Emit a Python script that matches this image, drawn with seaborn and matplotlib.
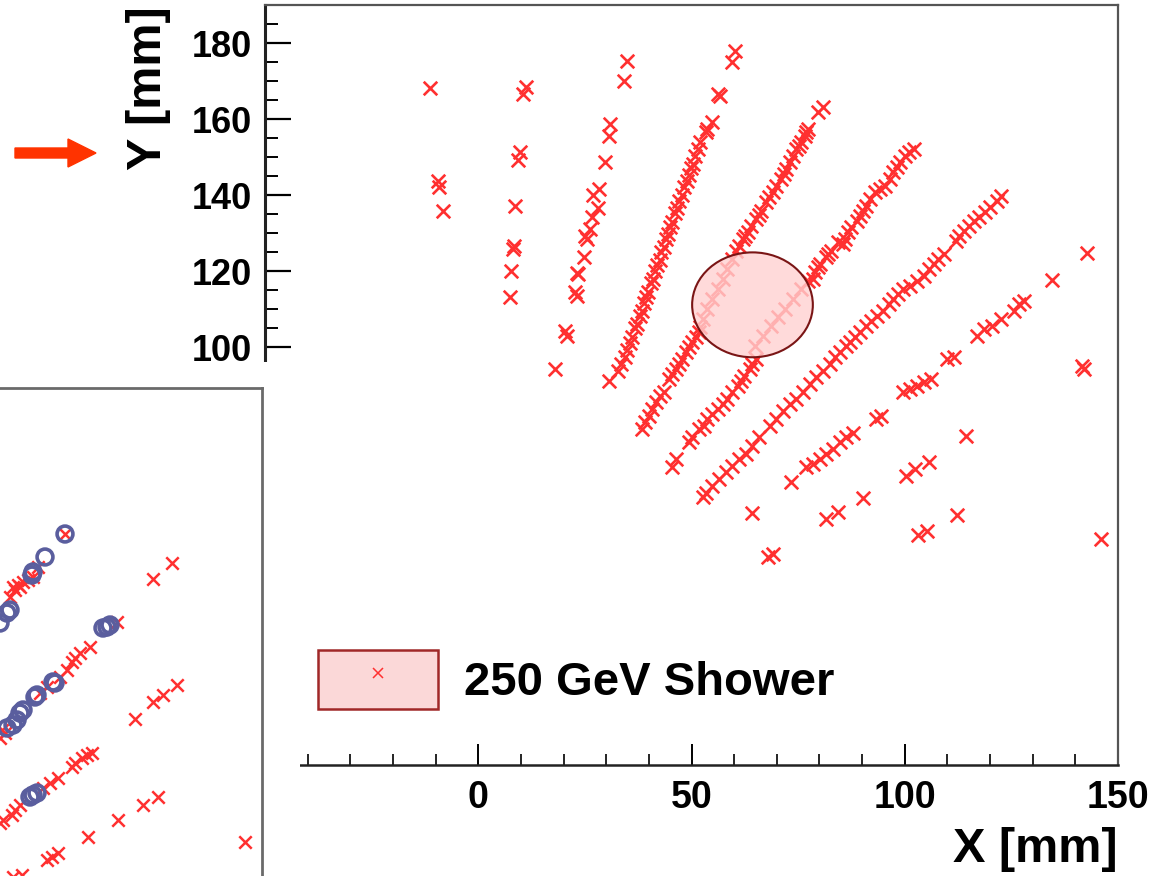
import numpy as np
import pandas as pd
import matplotlib
matplotlib.use("Agg")
import matplotlib.pyplot as plt
import seaborn as sns
from matplotlib.patches import Ellipse, Rectangle, Patch, FancyArrow
from matplotlib.lines import Line2D
from matplotlib.legend_handler import HandlerTuple
from matplotlib.ticker import MultipleLocator

# ---------------- data (mm) ----------------
t0_x = [-11.2, -9.5, -9.1, -8.3]
t0_y = [168.1, 143.8, 142.0, 135.7]

t1_x = [11.3, 10.5, 9.7, 9.4, 8.6, 8.4, 8.2, 7.6, 7.4]
t1_y = [168.3, 166.6, 151.2, 149.1, 137.2, 126.7, 125.8, 120.1, 113.1]

t2_x = [34.9, 34.1, 30.9, 30.6, 29.8, 28.4, 27.0, 28.0, 26.6, 26.2, 25.1, 25.5, 24.9,
        23.5, 23.1, 22.7, 23.1, 20.3, 20.7, 18.1]
t2_y = [175.3, 170.1, 158.7, 155.6, 148.6, 141.6, 140.0, 136.5, 134.1, 131.1, 129.3, 128.4,
        123.6, 119.2, 119.6, 114.4, 113.5, 104.3, 103.0, 94.2]

t3_x = [60.3, 59.6, 56.3, 56.6, 54.7, 53.7, 53.3, 52.1, 51.5, 50.9, 50.4, 49.8, 49.3, 48.9,
        48.2, 47.8, 47.0, 46.6, 46.1, 45.5, 45.0, 44.6, 44.1, 43.5, 42.9, 42.5, 42.0, 41.4,
        40.9, 40.5, 39.9, 39.3, 38.9, 38.3, 37.9, 37.2, 36.8, 36.1, 35.6, 34.9, 34.4, 33.5,
        32.8, 30.6]
t3_y = [177.9, 175.0, 166.6, 166.0, 159.2, 157.4, 156.6, 153.9, 152.0, 150.3, 148.2, 147.0,
        145.2, 143.6, 142.0, 140.1, 138.4, 136.5, 135.2, 133.0, 131.6, 129.8, 128.5, 126.4,
        125.1, 123.0, 121.7, 119.9, 118.0, 116.8, 114.6, 113.1, 111.5, 109.6, 108.2, 106.0,
        104.9, 102.6, 101.0, 99.3, 97.4, 95.5, 93.8, 91.1]

t4_x = [80.8, 79.7, 77.3, 76.8, 76.5, 75.7, 75.1, 74.5, 73.8, 73.0, 72.2, 71.6, 71.0, 69.8,
        69.1, 68.1, 67.5, 66.3, 65.8, 65.1, 63.9, 63.2, 62.5, 62.0, 61.2, 60.4,
        59.6, 58.4, 57.3, 56.1, 54.9, 53.7, 52.6, 51.9,
        51.8, 51.0, 50.2, 49.4, 48.6, 47.8, 47.1, 46.3, 45.5, 44.7, 43.5, 42.7, 41.6, 40.8,
        40.0, 39.2, 38.4]
t4_y = [163.1, 161.8, 157.4, 156.6, 155.6, 153.9, 152.9, 152.1, 150.3, 148.6, 146.8, 145.5,
        144.2, 142.4, 140.7, 139.5, 138.1, 135.9, 134.7, 133.7, 131.9, 130.2, 129.2, 128.4,
        126.7, 125.3,
        123.2, 120.5, 117.9, 115.3, 112.6, 110.0, 107.4, 105.3,
        103.9, 102.6, 101.2, 99.9, 98.6, 96.8, 95.5, 94.2, 92.9, 91.6, 88.1, 87.2, 85.4, 83.7,
        81.9, 80.2, 78.4]

t5_x = [102.1, 100.9, 100.1, 98.9, 98.1, 97.3, 96.6, 95.4, 94.2, 93.0, 91.8, 91.0, 90.3,
        89.5, 88.7, 87.5, 86.7, 86.0, 85.6, 84.4, 82.8, 82.0, 81.6, 80.1, 79.7, 79.0, 78.5,
        77.3, 75.7, 73.8, 71.9, 70.2, 68.6, 66.7, 64.8,
        65.1, 64.3, 63.6, 62.4, 61.6, 60.8, 59.6, 58.4, 57.3, 56.1, 54.9, 53.7, 53.0, 51.8,
        50.2, 49.4, 46.3, 45.5]
t5_y = [152.1, 151.2, 150.3, 148.6, 147.3, 146.0, 144.2, 142.4, 141.6, 140.7, 138.9, 137.2,
        135.9, 134.6, 133.2, 131.5, 130.2, 128.4, 127.1, 127.6, 125.3, 124.5, 123.6, 121.8,
        121.1, 119.7, 117.9,
        117.4, 115.3, 112.6, 110.0, 107.9, 105.5, 102.9, 100.3,
        96.8, 95.5, 94.2, 92.4, 91.1, 89.8, 88.1, 86.3, 85.0, 83.7, 82.4, 81.1, 79.3, 78.4,
        76.2, 74.9, 70.5, 68.3]

t6_x = [122.5, 121.7, 120.1, 118.9, 117.4, 116.2, 115.0, 113.8, 112.7, 111.9, 109.1, 107.9,
        106.8, 105.6, 104.4, 102.8, 101.3, 99.7, 98.5, 97.3, 96.2, 95.0, 93.4, 92.2, 91.0,
        89.5, 88.3, 87.1, 86.3, 84.8, 83.6, 82.4, 80.8, 79.3, 77.7, 76.1, 74.5, 73.0, 71.4,
        69.8, 68.3, 65.9, 64.3, 62.8, 61.2, 59.6, 58.0, 56.5, 54.9, 53.3, 52.6]
t6_y = [139.8, 138.5, 136.8, 135.4, 134.1, 133.2, 131.9, 130.6, 129.3, 128.0, 124.5, 123.2,
        121.8, 120.5, 118.8, 117.4, 116.1, 115.3, 113.9, 112.6, 111.3, 109.6, 108.2, 106.9,
        105.6, 103.9, 102.6, 101.2, 100.3, 98.6, 97.3, 95.5, 93.8, 92.0, 90.3, 88.1, 86.3,
        85.0, 83.2, 81.1, 79.3, 76.2, 74.0, 71.8, 70.5, 68.8, 67.0, 65.3, 63.5, 61.7, 60.4]

t7_x = [73.4, 76.9, 78.5, 80.1, 81.6, 83.2, 84.8, 86.3, 87.9, 93.3, 94.5, 99.7, 101.3, 102.8,
        104.4, 106.1, 109.8, 111.5, 116.9, 118.5, 120.4, 122.6, 125.6, 126.8, 128.0, 134.6,
        142.8]
t7_y = [64.4, 68.3, 69.2, 70.5, 71.8, 73.2, 74.9, 76.2, 77.5, 81.1, 81.8, 88.2, 88.9, 89.7,
        90.8, 91.6, 96.8, 97.4, 102.9, 104.7, 105.5, 107.4, 109.5, 111.3, 112.1, 117.6, 124.7]

iso_x = [141.6, 142.1, 114.3, 105.6, 102.5, 100.4, 90.3, 112.2, 105.1, 103.2, 146.1, 81.6,
         84.4, 64.3, 67.9, 69.1]
iso_y = [95.0, 94.2, 76.6, 69.7, 67.9, 66.1, 60.3, 55.8, 51.6, 50.5, 49.5, 54.7, 56.6, 56.3,
         44.7, 45.5]

shower_center = (64.3, 111.1)
shower_size = (28.3, 27.6)

x_ticks = [-50, 0, 50, 100, 150]
y_ticks = [0, 20, 40, 60, 80, 100, 120, 140, 160, 180]
legend_label = "250 GeV Shower"

# inset (second event display, arbitrary units)
in_circ_x = [16.25, 11.25, 8.25, 8.0, 2.5, 1.75, 0.0, 26.75, 27.5, 25.75, 13.25, 13.75,
             8.75, 9.25, 5.75, 5.0, 4.25, 3.25, 1.75, 8.25, 9.25, 7.5]
in_circ_y = [85.5, 79.75, 76.0, 75.25, 66.5, 65.75, 63.25, 62.25, 62.75, 62.0, 48.5, 48.25,
             44.75, 45.25, 41.5, 40.75, 39.0, 37.75, 37.0, 20.25, 20.75, 19.75]
in_x_x = [16.25, 3.25, 4.5, 5.75, 7.0, 8.25, 9.5, 2.5, 3.75, 5.0, 38.25, 43.0,
          29.25, 22.5, 20.0, 18.75, 18.0, 16.75, 15.0, 11.75, 10.0, 0.0, 1.25, 0.5,
          33.75, 38.25, 40.75, 44.25,
          23.0, 21.75, 20.5, 18.75, 18.0, 14.5, 12.5, 10.75, 5.0, 3.75, 3.0, 0.0, 0.75,
          35.75, 39.5, 29.5, 22.0, 61.25, 14.5, 13.0, 11.75, 5.5, 3.25]
in_x_y = [85.5, 72.25, 72.75, 73.5, 74.0, 74.75, 77.25, 69.75, 71.5, 72.25, 74.25, 78.25,
          63.5, 57.25, 55.75, 54.5, 53.5, 51.5, 49.75, 47.25, 45.75, 34.5, 35.75, 36.5,
          39.25, 43.5, 45.25, 47.75,
          30.75, 30.25, 29.5, 28.25, 27.25, 24.5, 23.25, 22.0, 17.75, 16.5, 15.25, 13.25, 14.0,
          17.75, 19.75, 14.0, 9.75, 8.5, 5.75, 4.75, 4.0, 0.25, -0.25]

# ---------------- style ----------------
sns.set_style("white")
plt.rcParams["font.family"] = ["Liberation Sans", "DejaVu Sans"]
plt.rcParams["font.weight"] = "bold"
for key in ("text.color", "axes.labelcolor", "xtick.color", "ytick.color"):
    plt.rcParams[key] = "black"

RED = "#ff3030"
W, H = 1163, 876
fig = plt.figure(figsize=(W / 100, H / 100), dpi=100)

main_df = pd.DataFrame({
    "x": t0_x + t1_x + t2_x + t3_x + t4_x + t5_x + t6_x + t7_x + iso_x,
    "y": t0_y + t1_y + t2_y + t3_y + t4_y + t5_y + t6_y + t7_y + iso_y,
})

ax = fig.add_axes([265 / W, 1 - 765 / H, (1118 - 265) / W, 760 / H])
ax.set_zorder(0)
sns.scatterplot(data=main_df, x="x", y="y", marker="x", color=RED, s=95,
                linewidth=1.9, ax=ax, zorder=2, legend=False)
ax.add_patch(Ellipse(shower_center, shower_size[0], shower_size[1],
                     facecolor=(1.0, 0.82, 0.82), alpha=0.8, edgecolor="none", zorder=3))
ax.add_patch(Ellipse(shower_center, shower_size[0], shower_size[1], facecolor="none",
                     edgecolor="#7a1515", linewidth=1.5, zorder=4))

ax.set_xlim(-50, 150)
ax.set_ylim(-10, 190)
ax.set_xticks(x_ticks)
ax.set_yticks(y_ticks)
ax.xaxis.set_minor_locator(MultipleLocator(10))
ax.yaxis.set_minor_locator(MultipleLocator(5))
ax.set_xlabel("")
ax.set_ylabel("")
ax.tick_params(axis="y", which="major", direction="in", length=19, width=1.6,
               labelsize=26, pad=9)
ax.tick_params(axis="y", which="minor", direction="in", length=9.5, width=1.4)
ax.tick_params(axis="x", which="major", direction="in", length=15, width=1.4,
               labelsize=27, pad=11)
ax.tick_params(axis="x", which="minor", direction="in", length=8, width=1.2)
ax.tick_params(left=True, bottom=True, which="both")
for lab in ax.get_xticklabels() + ax.get_yticklabels():
    lab.set_fontweight("bold")
ax.spines["left"].set_linewidth(2.2)
ax.spines["left"].set_color("#222222")
ax.spines["bottom"].set_linewidth(1.8)
ax.spines["bottom"].set_color("#222222")
for s in ("top", "right"):
    ax.spines[s].set_linewidth(1.6)
    ax.spines[s].set_color("#555555")

# legend
h_box = Patch(facecolor="#fbd8d8", edgecolor="#a02828", linewidth=1.8)
h_mark = Line2D([], [], marker="x", color=RED, linestyle="none", markersize=7, mew=1.1)
ax.legend(handles=[(h_box, h_mark)], labels=[legend_label],
          handler_map={tuple: HandlerTuple(ndivide=1)},
          loc="center left", bbox_to_anchor=(0.0621, 0.112), frameon=False,
          borderpad=0, borderaxespad=0, handlelength=2.55, handleheight=1.55,
          handletextpad=0.55, prop={"size": 34, "weight": "bold"})

# axis titles
fig.text(1118 / W, 1 - 850 / H, "X [mm]", ha="right", va="center", fontsize=35,
         fontweight="bold")
fig.text(148 / W, 1 - 88 / H, "Y [mm]", ha="center", va="center", rotation=90,
         fontsize=35, fontweight="bold")

# white cover over lower-left part of main frame
cover = Rectangle((0, 0), 300 / W, (H - 362) / H, transform=fig.transFigure,
                  facecolor="white", edgecolor="none", zorder=1)
fig.add_artist(cover)

# inset panel
axi = fig.add_axes([0, 0, 262 / W, 488 / H])
axi.set_zorder(2)
axi.set_facecolor("white")
sns.scatterplot(x=in_x_x, y=in_x_y, marker="x", color=RED, s=80, linewidth=1.8,
                ax=axi, zorder=2, legend=False)
sns.scatterplot(x=in_circ_x, y=in_circ_y, marker="o", s=130, facecolor="none",
                edgecolor="#5a5e9e", linewidth=2.6, ax=axi, zorder=3, legend=False)
axi.set_xlim(0, 65.5)
axi.set_ylim(0, 122)
axi.set_xticks([])
axi.set_yticks([])
axi.set_xlabel("")
axi.set_ylabel("")
axi.spines["left"].set_visible(False)
axi.spines["bottom"].set_visible(False)
for s in ("top", "right"):
    axi.spines[s].set_color("#6a6a6a")
    axi.spines[s].set_linewidth(2.0)

# red arrow pointing at the Y title
arrow = FancyArrow(0.15, (H - 153) / 100, 0.81, 0, width=0.10, head_width=0.28,
                   head_length=0.28, length_includes_head=True, color="#ff3300",
                   transform=fig.dpi_scale_trans)
fig.add_artist(arrow)

fig.savefig("out.png", dpi=100)
